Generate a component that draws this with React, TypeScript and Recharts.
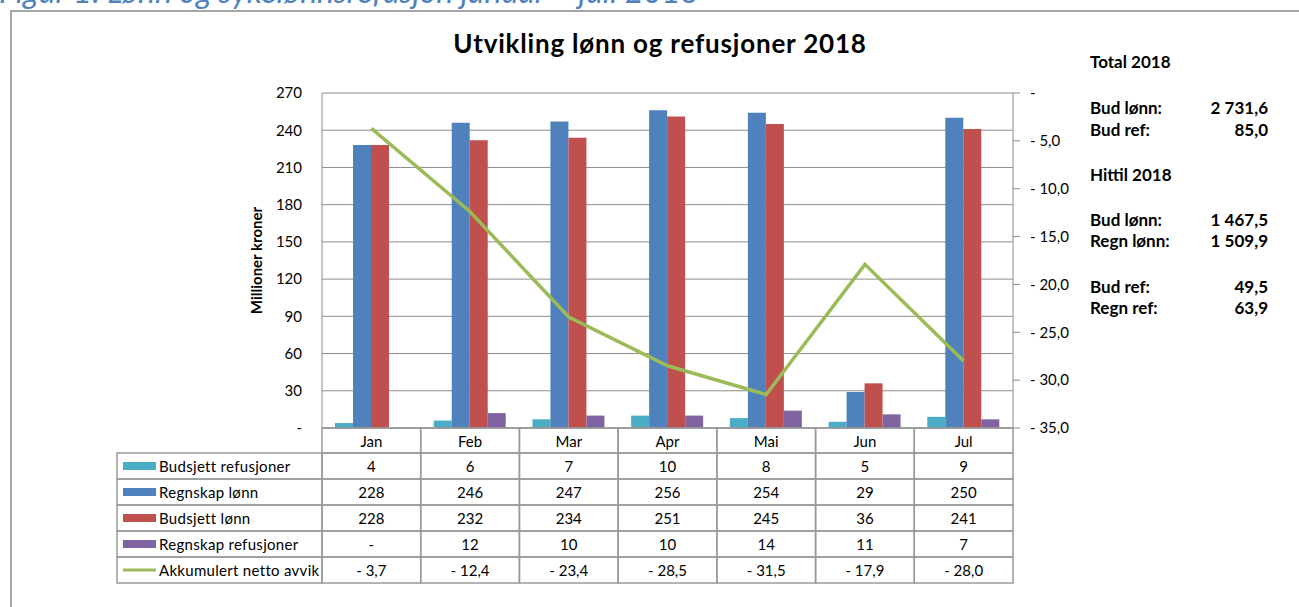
import React from 'react';
import { ComposedChart, Bar, Line, XAxis, YAxis, CartesianGrid } from 'recharts';

const months = ['Jan', 'Feb', 'Mar', 'Apr', 'Mai', 'Jun', 'Jul'];
const budsjettRefusjoner = [4, 6, 7, 10, 8, 5, 9];
const regnskapLonn = [228, 246, 247, 256, 254, 29, 250];
const budsjettLonn = [228, 232, 234, 251, 245, 36, 241];
const regnskapRefusjoner = [null, 12, 10, 10, 14, 11, 7];
const akkumulertAvvik = [-3.7, -12.4, -23.4, -28.5, -31.5, -17.9, -28.0];

const leftTicks = [0, 30, 60, 90, 120, 150, 180, 210, 240, 270];
const rightTicks = [0, -5, -10, -15, -20, -25, -30, -35];

const totalLabels = ['Bud lønn:', 'Bud ref:'];
const totalValues = ['2 731,6', '85,0'];
const hittilLabels = ['Bud lønn:', 'Regn lønn:', 'Bud ref:', 'Regn ref:'];
const hittilValues = ['1 467,5', '1 509,9', '49,5', '63,9'];

const fmtBar = (v: number | null) => (v == null || v === 0 ? '-' : String(v));
const fmtAvvik = (v: number) => (v < 0 ? '- ' : '') + Math.abs(v).toFixed(1).replace('.', ',');

const SERIES = [
  { key: 'budRef', name: 'Budsjett refusjoner', color: '#4BACC6', values: budsjettRefusjoner, line: false },
  { key: 'regnLonn', name: 'Regnskap lønn', color: '#4F81BD', values: regnskapLonn, line: false },
  { key: 'budLonn', name: 'Budsjett lønn', color: '#C0504D', values: budsjettLonn, line: false },
  { key: 'regnRef', name: 'Regnskap refusjoner', color: '#8064A2', values: regnskapRefusjoner, line: false },
  { key: 'avvik', name: 'Akkumulert netto avvik', color: '#9BBB59', values: akkumulertAvvik, line: true },
];

const data = months.map((m, i) => {
  const row: any = { month: m };
  SERIES.forEach((s) => (row[s.key] = s.values[i]));
  return row;
});

// layout
const W = 1299;
const H = 607;
const LEFT_AXIS_W = 322;
const RIGHT_AXIS_W = 286;
const TOP = 93;
const PLOT_H = 335;
const PLOT_W = W - LEFT_AXIS_W - RIGHT_AXIS_W;
const COL_W = PLOT_W / months.length;
const HEAD_H = 25;
const ROW_H = 26;
const LEGEND_W = 205;
const GRID = '#8c8c8c';
const TABLE_LINE = '#9a9a9a';
const FONT = 'Lato, Calibri, sans-serif';

function TableTick(props: any) {
  const { x, y, payload, index } = props;
  const left = x - COL_W / 2;
  return (
    <g fontFamily={FONT} fontSize={15} fill="#000">
      <rect x={left} y={y} width={COL_W} height={HEAD_H} fill="none" stroke={TABLE_LINE} strokeWidth={1.5} />
      <text x={x} y={y + HEAD_H / 2} textAnchor="middle" dominantBaseline="central">
        {payload.value}
      </text>
      {SERIES.map((s, r) => {
        const top = y + HEAD_H + r * ROW_H;
        const v = s.values[index] as number | null;
        return (
          <g key={s.key}>
            <rect x={left} y={top} width={COL_W} height={ROW_H} fill="none" stroke={TABLE_LINE} strokeWidth={1.5} />
            <text x={x} y={top + ROW_H / 2} textAnchor="middle" dominantBaseline="central">
              {s.line ? fmtAvvik(v as number) : fmtBar(v)}
            </text>
            {index === 0 && (
              <g>
                <rect x={left - LEGEND_W} y={top} width={LEGEND_W} height={ROW_H} fill="none" stroke={TABLE_LINE} strokeWidth={1.5} />
                {s.line ? (
                  <line x1={left - LEGEND_W + 6} x2={left - LEGEND_W + 39} y1={top + ROW_H / 2} y2={top + ROW_H / 2} stroke={s.color} strokeWidth={3} />
                ) : (
                  <rect x={left - LEGEND_W + 6} y={top + ROW_H / 2 - 4} width={33} height={8} fill={s.color} />
                )}
                <text x={left - LEGEND_W + 42} y={top + ROW_H / 2} dominantBaseline="central" letterSpacing={0.3}>
                  {s.name}
                </text>
              </g>
            )}
          </g>
        );
      })}
    </g>
  );
}

function AxisTitle(props: any) {
  const { viewBox } = props;
  const cx = viewBox.x + viewBox.width - 66;
  const cy = viewBox.y + viewBox.height / 2;
  return (
    <text x={cx} y={cy} transform={`rotate(-90, ${cx}, ${cy})`} textAnchor="middle" dominantBaseline="central" fontWeight="bold" fontSize={15} fontFamily={FONT}>
      Millioner kroner
    </text>
  );
}

const panelText: React.CSSProperties = {
  position: 'absolute',
  fontWeight: 'bold',
  fontSize: 17,
  lineHeight: '17px',
  whiteSpace: 'nowrap',
};

function SidePanel() {
  const rows: { text: string; value?: string; y: number }[] = [
    { text: 'Total 2018', y: 62 },
    ...totalLabels.map((t, i) => ({ text: t, value: totalValues[i], y: 108 + i * 22 })),
    { text: 'Hittil 2018', y: 175 },
    ...hittilLabels.map((t, i) => ({ text: t, value: hittilValues[i], y: 220 + i * 21 + (i >= 2 ? 25 : 0) })),
  ];
  return (
    <>
      {rows.map((r, i) => (
        <React.Fragment key={i}>
          <div style={{ ...panelText, left: 1090, top: r.y - 9 }}>{r.text}</div>
          {r.value && <div style={{ ...panelText, right: W - 1268, top: r.y - 9 }}>{r.value}</div>}
        </React.Fragment>
      ))}
    </>
  );
}

export default function App() {
  return (
    <div
      style={{
        position: 'absolute',
        left: 0,
        top: 0,
        width: W,
        height: H,
        overflow: 'hidden',
        background: '#fff',
        fontFamily: FONT,
        color: '#000',
      }}
    >
      <div
        style={{
          position: 'absolute',
          left: -1,
          top: -25,
          fontSize: 32,
          lineHeight: '32px',
          fontStyle: 'italic',
          color: '#4F81BD',
          whiteSpace: 'nowrap',
        }}
      >
        Figur 1: Lønn og sykelønnsrefusjon januar – juli 2018
      </div>
      <div
        style={{
          position: 'absolute',
          left: 10,
          top: 10,
          width: W + 20,
          height: H + 20,
          border: '2px solid #a6a6a6',
        }}
      />
      <div
        style={{
          position: 'absolute',
          left: 660,
          top: 30,
          transform: 'translateX(-50%)',
          fontSize: 26,
          lineHeight: '26px',
          fontWeight: 'bold',
          letterSpacing: 0.8,
          whiteSpace: 'nowrap',
        }}
      >
        Utvikling lønn og refusjoner 2018
      </div>
      <SidePanel />
      <div style={{ position: 'absolute', left: 0, top: 0 }}>
        <ComposedChart
          width={W}
          height={H}
          data={data}
          margin={{ top: TOP, right: 0, bottom: H - TOP - PLOT_H - 179, left: 0 }}
          barGap={0}
        >
          <CartesianGrid yAxisId="left" vertical={false} stroke={GRID} strokeWidth={1} />
          <XAxis
            dataKey="month"
            xAxisId={0}
            height={179}
            interval={0}
            tickLine={false}
            tickSize={0}
            tickMargin={0}
            axisLine={{ stroke: GRID }}
            tick={<TableTick />}
          />
          <YAxis
            yAxisId="left"
            orientation="left"
            width={LEFT_AXIS_W}
            domain={[0, 270]}
            ticks={leftTicks}
            interval={0}
            tickLine={false}
            tickSize={8}
            tickMargin={12}
            axisLine={{ stroke: GRID }}
            tick={{ fill: '#000', fontSize: 15, fontFamily: FONT }}
            tickFormatter={(v: number) => (v === 0 ? '-' : String(v))}
            label={<AxisTitle />}
          />
          <YAxis
            yAxisId="right"
            orientation="right"
            width={RIGHT_AXIS_W}
            domain={[-35, 0]}
            ticks={rightTicks}
            interval={0}
            tickSize={7}
            tickMargin={10}
            tickLine={{ stroke: GRID }}
            axisLine={{ stroke: GRID }}
            tick={{ fill: '#000', fontSize: 15, fontFamily: FONT }}
            tickFormatter={(v: number) => (v === 0 ? '-' : fmtAvvik(v))}
          />
          {SERIES.filter((s) => !s.line).map((s) => (
            <Bar key={s.key} dataKey={s.key} yAxisId="left" fill={s.color} barSize={18} isAnimationActive={false} />
          ))}
          <Line
            dataKey="avvik"
            yAxisId="right"
            type="linear"
            stroke="#9BBB59"
            strokeWidth={3.5}
            dot={false}
            activeDot={false}
            isAnimationActive={false}
          />
        </ComposedChart>
      </div>
    </div>
  );
}
